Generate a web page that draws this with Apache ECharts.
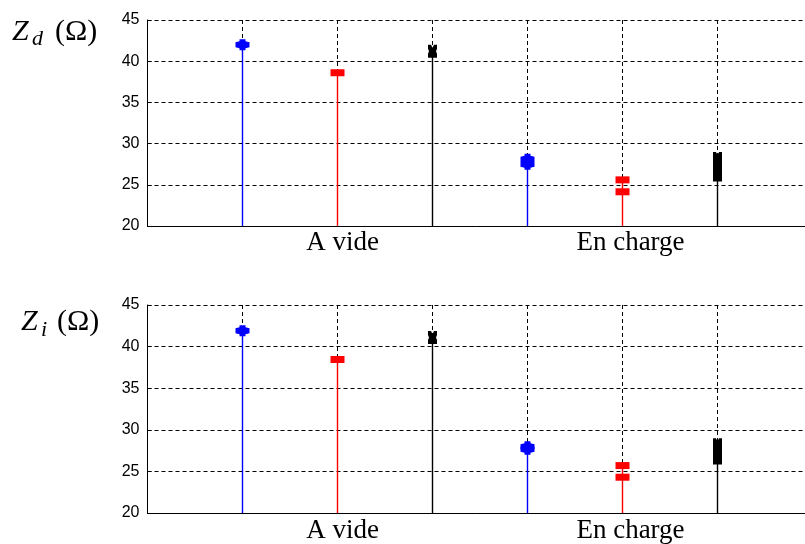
<!DOCTYPE html>
<html>
<head>
<meta charset="utf-8">
<script src="https://cdn.jsdelivr.net/npm/echarts@6/dist/echarts.min.js"></script>
<style>
html,body{margin:0;padding:0;background:#fff;}
#chart{width:805px;height:544px;}
</style>
</head>
<body>
<div id="chart"></div>
<script>
// ---- data ----
const xLabels = ['A vide', 'En charge'];
const xLabelPos = [2, 5];
const yTicks = [20, 25, 30, 35, 40, 45];
const posBlue = [1, 4];
const posRed = [2, 5];
const posBlack = [3, 6];

// Z_d (top)
const zdBlue = [[42.0], [27.5, 28.1]];
const zdRed = [[38.6], [25.6, 24.15]];
const zdBlack = [[41.2], [28.2, 27.8, 27.4, 27.0, 26.6, 26.2]];
// Z_i (bottom)
const ziBlue = [[41.9], [27.65, 27.95]];
const ziRed = [[38.45], [25.7, 24.3]];
const ziBlack = [[41.1], [28.2, 27.8, 27.4, 27.0, 26.6]];

// ---- styles ----
const BLUE = '#0000ff', RED = '#ff0000', BLACK = '#000000';
const blueSym = 'path://M4,0 L10,0 L10,2 L14,3 L14,8 L10,9 L10,11 L4,11 L4,9 L0,8 L0,3 L4,2 Z';
const blackSym = 'path://M0,0 L3,0 L4.5,3 L6,0 L9,0 L9,4 L8,6.5 L9,9 L9,13 L0,13 L0,9 L1,6.5 L0,4 Z';

const chart = echarts.init(document.getElementById('chart'), null, {renderer: 'canvas'});

function stemSeries(grid, positions, groups, color, symbol, size) {
  const out = [];
  positions.forEach((x, i) => {
    const vals = groups[i];
    const top = Math.max.apply(null, vals);
    out.push({
      type: 'line', xAxisIndex: grid, yAxisIndex: grid,
      data: [[x, yTicks[0]], [x, top]],
      symbol: 'none', silent: true, z: 3,
      lineStyle: {color: color, width: 1.4}
    });
    out.push({
      type: 'scatter', xAxisIndex: grid, yAxisIndex: grid,
      data: vals.map(v => [x, v]),
      symbol: symbol, symbolSize: size, z: 4, silent: true,
      itemStyle: {color: color, opacity: 1}
    });
  });
  return out;
}

const xLabelRich = {
  a: {fontFamily: 'Liberation Serif', fontSize: 27, color: '#000'},
  s1: {width: 10, fontSize: 27},
  s2: {width: 16, fontSize: 27}
};

function xAxis(grid) {
  return {
    type: 'value', gridIndex: grid, min: 0, max: 6.921, interval: 1,
    axisLine: {show: true, lineStyle: {color: '#000', width: 1}},
    axisTick: {show: true, inside: true, length: 4, lineStyle: {color: '#000'}},
    axisLabel: {
      margin: grid === 0 ? 3 : 4,
      showMaxLabel: false,
      formatter: function (v) {
        const i = xLabelPos.indexOf(v);
        if (i < 0) return '';
        return (i === 0 ? '{s1| }' : '{s2| }') + '{a|' + xLabels[i] + '}';
      },
      rich: xLabelRich
    },
    splitLine: {show: true, lineStyle: {color: '#000', type: [4, 3], width: 1}}
  };
}

function yAxis(grid) {
  return {
    type: 'value', gridIndex: grid, min: yTicks[0], max: yTicks[yTicks.length - 1], interval: 5,
    axisLine: {show: true, lineStyle: {color: '#000', width: 1}},
    axisTick: {show: true, inside: true, length: 4, lineStyle: {color: '#000'}},
    axisLabel: {margin: 8, fontFamily: 'Liberation Sans', fontSize: 16, color: '#000'},
    splitLine: {show: true, lineStyle: {color: '#000', type: [4, 3], width: 1}}
  };
}

const option = {
  backgroundColor: '#fff',
  animation: false,
  grid: [
    {left: 147.5, top: 20, width: 657.5, height: 206},
    {left: 147.5, top: 305, width: 657.5, height: 208}
  ],
  xAxis: [xAxis(0), xAxis(1)],
  yAxis: [yAxis(0), yAxis(1)],
  graphic: [
    {type: 'text', left: 12, top: 17, style: {text: 'Z', font: 'italic 30px "Liberation Serif"', fill: '#000'}},
    {type: 'text', left: 32, top: 28, style: {text: 'd', font: 'italic 22px "Liberation Serif"', fill: '#000'}},
    {type: 'text', left: 55, top: 17, style: {text: '(Ω)', font: '30px "Liberation Serif"', fill: '#000'}},
    {type: 'text', left: 21, top: 307, style: {text: 'Z', font: 'italic 30px "Liberation Serif"', fill: '#000'}},
    {type: 'text', left: 41, top: 319, style: {text: 'i', font: 'italic 22px "Liberation Serif"', fill: '#000'}},
    {type: 'text', left: 57, top: 307, style: {text: '(Ω)', font: '30px "Liberation Serif"', fill: '#000'}}
  ],
  series: [].concat(
    stemSeries(0, posBlue, zdBlue, BLUE, blueSym, [14, 11]),
    stemSeries(0, posRed, zdRed, RED, 'rect', [14, 7]),
    stemSeries(0, posBlack, zdBlack, BLACK, blackSym, [9, 13]),
    stemSeries(1, posBlue, ziBlue, BLUE, blueSym, [14, 11]),
    stemSeries(1, posRed, ziRed, RED, 'rect', [14, 7]),
    stemSeries(1, posBlack, ziBlack, BLACK, blackSym, [9, 13])
  )
};
chart.setOption(option);
</script>
</body>
</html>
